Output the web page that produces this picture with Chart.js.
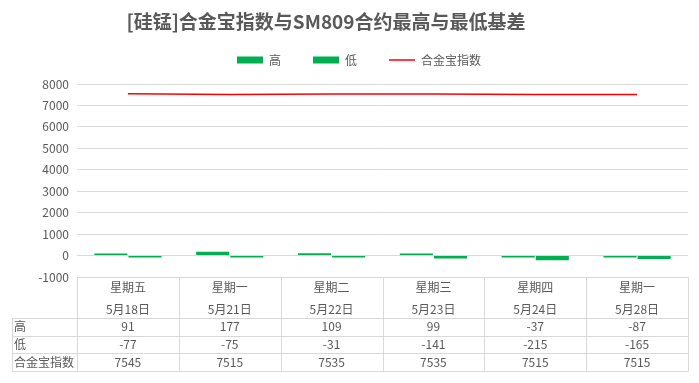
<!DOCTYPE html>
<html><head><meta charset="utf-8">
<script src="https://cdn.jsdelivr.net/npm/chart.js@4.4.1/dist/chart.umd.min.js"></script>
<style>html,body{margin:0;padding:0;background:#fff}#wrap{width:699px;height:383px;position:relative}</style>
</head><body><div id="wrap"><canvas id="c"></canvas></div>
<script>
const weekdays = ['星期五','星期一','星期二','星期三','星期四','星期一'];
const dates = ['5月18日','5月21日','5月22日','5月23日','5月24日','5月28日'];
const highValues = [91,177,109,99,-37,-87];
const lowValues = [-77,-75,-31,-141,-215,-165];
const indexValues = [7545,7515,7535,7535,7515,7515];
const seriesNames = ['高','低','合金宝指数'];
const titleText = '[硅锰]合金宝指数与SM809合约最高与最低基差';

const FONT = '"Noto Sans CJK SC", "Microsoft YaHei", sans-serif';
const GREY = '#595959';
const GRID = '#D9D9D9';

const titlePlugin = {
  id: 'customTitle',
  afterDraw(chart) {
    const ctx = chart.ctx;
    ctx.save();
    ctx.fillStyle = GREY;
    ctx.font = 'bold 19px ' + FONT;
    ctx.textAlign = 'center';
    ctx.textBaseline = 'middle';
    ctx.fillText(titleText, 326, 22);
    ctx.restore();
  }
};

const tablePlugin = {
  id: 'dataTable',
  afterDraw(chart) {
    const ctx = chart.ctx;
    const ca = chart.chartArea;
    const x = chart.scales.x;
    const n = weekdays.length;
    const step = (ca.right - ca.left) / n;
    const top = ca.bottom;
    const hdrBottom = top + 41;
    const rowH = 17.7;
    const rows = [highValues, lowValues, indexValues];
    const labelLeft = 12;
    const bottom = hdrBottom + rowH * rows.length;
    ctx.save();
    ctx.strokeStyle = GRID;
    ctx.lineWidth = 1;
    ctx.beginPath();
    for (let r = 0; r <= rows.length; r++) {
      const y = Math.round(hdrBottom + r * rowH) + 0.5;
      ctx.moveTo(labelLeft, y); ctx.lineTo(ca.right, y);
    }
    for (let i = 0; i <= n; i++) {
      const vx = Math.round(ca.left + i * step) + 0.5;
      ctx.moveTo(vx, top); ctx.lineTo(vx, Math.round(bottom) + 0.5);
    }
    ctx.moveTo(labelLeft + 0.5, Math.round(hdrBottom)); ctx.lineTo(labelLeft + 0.5, Math.round(bottom) + 0.5);
    ctx.stroke();
    ctx.fillStyle = GREY;
    ctx.font = '12px ' + FONT;
    ctx.textBaseline = 'middle';
    ctx.textAlign = 'center';
    for (let i = 0; i < n; i++) {
      const cx = x.getPixelForValue(i);
      ctx.fillText(weekdays[i], cx, top + 10);
      ctx.fillText(dates[i], cx, top + 32);
      rows.forEach((arr, r) => {
        ctx.fillText(String(arr[i]), cx, hdrBottom + r * rowH + rowH / 2);
      });
    }
    ctx.textAlign = 'left';
    seriesNames.forEach((s, r) => {
      ctx.fillText(s, labelLeft + 2, hdrBottom + r * rowH + rowH / 2);
    });
    ctx.restore();
  }
};

new Chart(document.getElementById('c'), {
  data: {
    labels: weekdays.map((w, i) => [w, dates[i]]),
    datasets: [
      {type: 'line', label: seriesNames[2], data: indexValues, borderColor: '#FF0000', backgroundColor: '#FF0000', borderWidth: 1.5, pointRadius: 0, pointStyle: 'line', order: 0},
      {type: 'bar', label: seriesNames[0], data: highValues, backgroundColor: '#00B050', borderWidth: 0, categoryPercentage: 0.67, barPercentage: 0.97, minBarLength: 2, pointStyle: 'rect', order: 1},
      {type: 'bar', label: seriesNames[1], data: lowValues, backgroundColor: '#00B050', borderWidth: 0, categoryPercentage: 0.67, barPercentage: 0.97, minBarLength: 2, pointStyle: 'rect', order: 2}
    ]
  },
  options: {
    responsive: true,
    maintainAspectRatio: false,
    animation: false,
    layout: {padding: {left: 30, right: 11, top: 22, bottom: 106}},
    plugins: {
      title: {display: false},
      legend: {
        display: true,
        labels: {
          usePointStyle: true, pointStyleWidth: 26, boxHeight: 7,
          color: GREY, font: {family: FONT, size: 12}, padding: 32,
          sort: (a, b) => {
            const ord = {'高': 0, '低': 1, '合金宝指数': 2};
            return ord[a.text] - ord[b.text];
          }
        }
      },
      tooltip: {enabled: false}
    },
    scales: {
      x: {display: false, offset: true, grid: {display: false}},
      xTop: {
        type: 'category', position: 'top', display: true,
        grid: {display: false, drawTicks: false}, border: {display: false},
        ticks: {display: false},
        afterFit(scale) { scale.height = 8; }
      },
      y: {
        min: -1000, max: 8000,
        ticks: {stepSize: 1000, color: GREY, font: {family: FONT, size: 12}, padding: 8, callback: v => String(v)},
        grid: {color: GRID, drawTicks: false},
        border: {display: false},
        afterFit(scale) { scale.width = 47; }
      }
    }
  },
  plugins: [tablePlugin, titlePlugin]
});
</script>
</body></html>
